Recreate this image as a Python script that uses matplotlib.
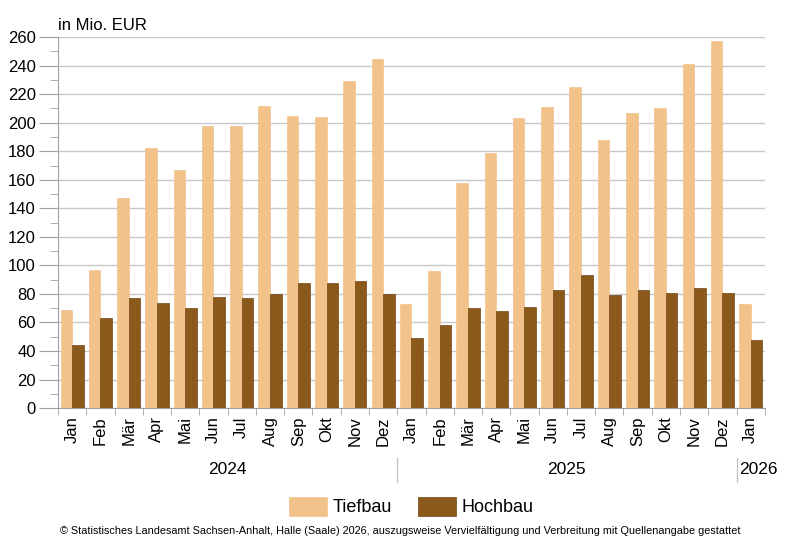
import matplotlib.pyplot as plt
import numpy as np

plt.rcParams['font.family'] = ['Liberation Sans', 'DejaVu Sans']

# monthly values in Mio. EUR, Jan 2024 - Jan 2026
months = ['Jan', 'Feb', 'Mär', 'Apr', 'Mai', 'Jun', 'Jul', 'Aug', 'Sep', 'Okt', 'Nov', 'Dez',
          'Jan', 'Feb', 'Mär', 'Apr', 'Mai', 'Jun', 'Jul', 'Aug', 'Sep', 'Okt', 'Nov', 'Dez',
          'Jan']
years = ['2024', '2025', '2026']
year_months = [12, 12, 1]
tiefbau = [69, 97, 147, 182, 167, 198, 198, 212, 205, 204, 229, 245,
           73, 96, 158, 179, 203, 211, 225, 188, 207, 210, 241, 257,
           73]
hochbau = [44, 63, 77, 74, 70, 78, 77, 80, 88, 88, 89, 80,
           49, 58, 70, 68, 71, 83, 93, 79, 83, 81, 84, 81,
           48]

fig = plt.figure(figsize=(8, 5.5), dpi=100)
ax = fig.add_axes([0.0725, 0.258, 0.8835, 0.6745])

x = np.arange(len(months))
w = 0.41
ax.bar(x - w / 2, tiefbau, w, color='#F2C28B', edgecolor='#F2C28B', linewidth=0.5,
       label='Tiefbau', zorder=3)
ax.bar(x + w / 2, hochbau, w, color='#8B5A1B', edgecolor='#6E4512', linewidth=0.5,
       label='Hochbau', zorder=3)

ax.set_xlim(-0.5, len(months) - 0.5)
ax.set_ylim(0, 260)
ax.set_yticks(range(0, 261, 20))
ax.set_yticks(range(10, 260, 20), minor=True)
ax.tick_params(axis='y', which='major', length=14, color='#a0a0a0', labelsize=12, pad=2)
ax.tick_params(axis='y', which='minor', length=6, color='#a0a0a0')
ax.grid(axis='y', which='major', color='#c8c8c8', linewidth=1, zorder=0)

ax.set_xticks(x)
ax.set_xticklabels(months, rotation=90, fontsize=12)
ax.set_xticks(np.arange(-0.5, len(months), 1), minor=True)
ax.tick_params(axis='x', which='major', length=0, pad=6)
ax.tick_params(axis='x', which='minor', length=5, color='#a0a0a0')

for s in ['top', 'right']:
    ax.spines[s].set_visible(False)
ax.spines['left'].set_color('#a0a0a0')
ax.spines['bottom'].set_color('#a0a0a0')
ax.axhline(260, color='#a0a0a0', linewidth=1.3, zorder=1)

ax.text(0, 1.01, 'in Mio. EUR', transform=ax.transAxes, fontsize=12, ha='left', va='bottom')

# year labels and separators below the months
trans = ax.get_xaxis_transform()
start = 0
for i, (yr, n) in enumerate(zip(years, year_months)):
    if n > 1:
        ax.text(start + n / 2 - 0.5, -0.165, yr, transform=trans, fontsize=12.5,
                ha='center', va='center')
    else:
        # single month: label starts right after the separator
        ax.text(start - 0.42, -0.165, yr, transform=trans, fontsize=12.5,
                ha='left', va='center')
    if i > 0:
        ax.plot([start - 0.5, start - 0.5], [-0.135, -0.2], transform=trans,
                color='#c8c8c8', linewidth=1, clip_on=False)
    start += n

fig.legend(loc='center', bbox_to_anchor=(0.514, 0.079), ncol=2, frameon=False,
           fontsize=13, handlelength=2.15, handleheight=1.3, columnspacing=1.4,
           handletextpad=0.3)

fig.text(0.5, 0.035, '© Statistisches Landesamt Sachsen-Anhalt, Halle (Saale) 2026, auszugsweise '
         'Vervielfältigung und Verbreitung mit Quellenangabe gestattet',
         ha='center', va='center', fontsize=7.8)

fig.savefig('out.png', dpi=100)
